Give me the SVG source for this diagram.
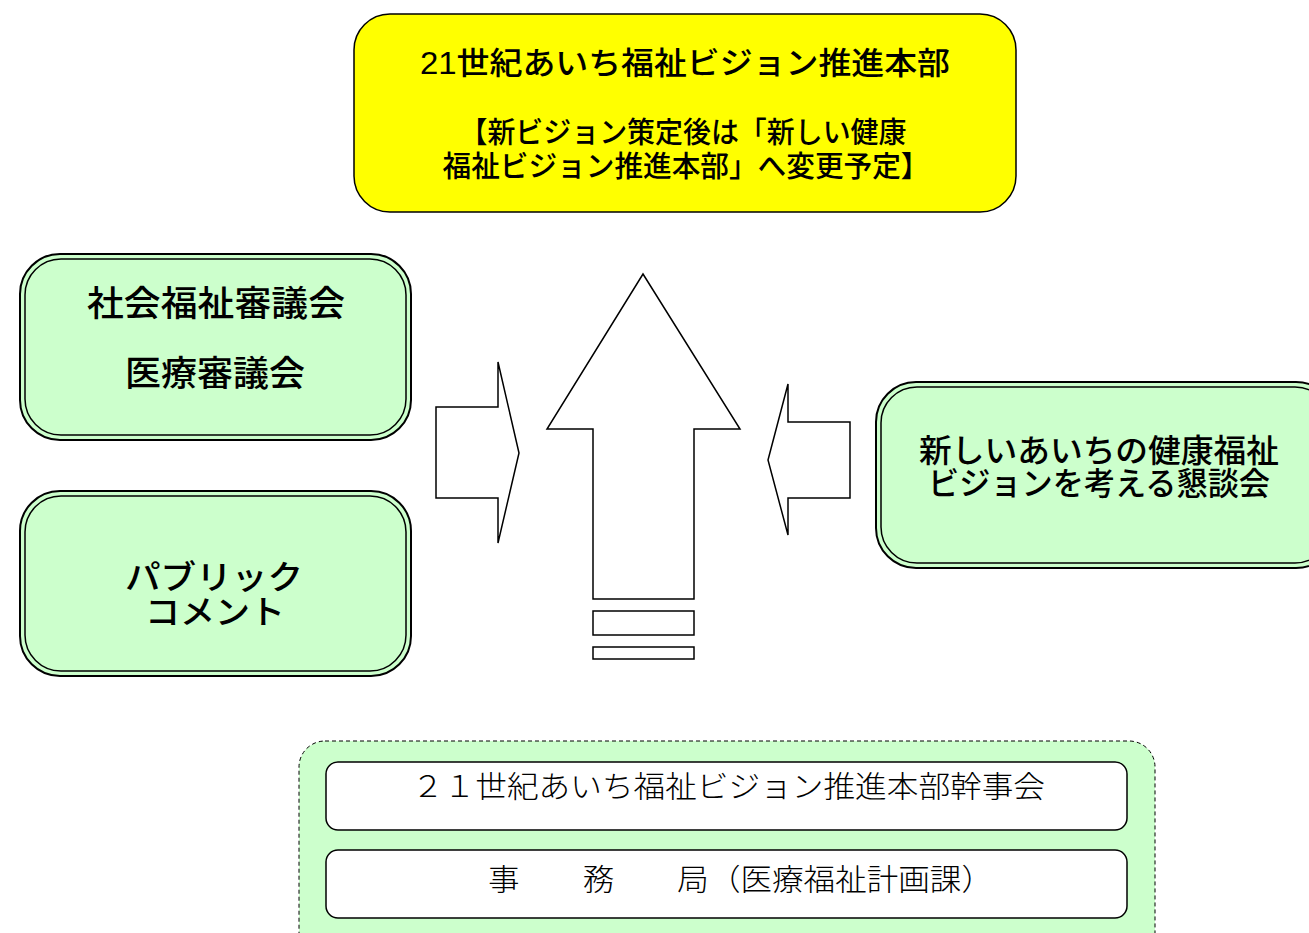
<svg xmlns="http://www.w3.org/2000/svg" width="1309" height="933" viewBox="0 0 1309 933">
<style>
.t{font-family:"Liberation Sans","Noto Sans CJK JP",sans-serif;fill:#000;text-anchor:middle;font-weight:500}
.m{font-family:"Liberation Serif","Noto Sans CJK JP",serif;fill:#000;font-weight:300}
.green{fill:#ccffcc;stroke:#000;stroke-width:2}
.inner{fill:none;stroke:#000;stroke-width:1.5}
.arrow{fill:#fff;stroke:#000;stroke-width:1.5;stroke-linejoin:miter}
.wbox{fill:#fff;stroke:#000;stroke-width:1.5}
</style>
<rect width="1309" height="933" fill="#fff"/>
<g id="honbu">
<rect x="354" y="14" width="662" height="198" rx="36" fill="#ffff00" stroke="#000" stroke-width="1.5"/>
<text class="t" x="685" y="74" font-size="31" textLength="530" lengthAdjust="spacingAndGlyphs">21世紀あいち福祉ビジョン推進本部</text>
<text class="t" x="683" y="143" font-size="29" textLength="447" lengthAdjust="spacingAndGlyphs">【新ビジョン策定後は「新しい健康</text>
<text class="t" x="686" y="177" font-size="29" textLength="487" lengthAdjust="spacingAndGlyphs">福祉ビジョン推進本部」へ変更予定】</text>
</g>
<g id="shingikai">
<rect class="green" x="20" y="254" width="391" height="186" rx="40"/>
<rect class="inner" x="25" y="259" width="381" height="176" rx="36"/>
<text class="t" x="216" y="316" font-size="35" textLength="258" lengthAdjust="spacingAndGlyphs">社会福祉審議会</text>
<text class="t" x="215" y="386" font-size="35" textLength="180" lengthAdjust="spacingAndGlyphs">医療審議会</text>
</g>
<g id="public">
<rect class="green" x="20" y="491" width="391" height="185" rx="40"/>
<rect class="inner" x="25" y="496" width="381" height="175" rx="36"/>
<text class="t" x="214" y="589" font-size="33" textLength="178" lengthAdjust="spacingAndGlyphs">パブリック</text>
<text class="t" x="215" y="624" font-size="33" textLength="140" lengthAdjust="spacingAndGlyphs">コメント</text>
</g>
<g id="kondankai">
<rect class="green" x="876" y="382" width="460" height="186" rx="40"/>
<rect class="inner" x="881" y="387" width="450" height="176" rx="36"/>
<text class="t" x="1099" y="462" font-size="32" textLength="360" lengthAdjust="spacingAndGlyphs">新しいあいちの健康福祉</text>
<text class="t" x="1099" y="495" font-size="32" textLength="342" lengthAdjust="spacingAndGlyphs">ビジョンを考える懇談会</text>
</g>
<g id="connectors">
<polygon class="arrow" points="436,407 498,407 498,362 519,453 498,543 498,498 436,498"/>
<polygon class="arrow" points="643,274 740,429 694,429 694,599 593,599 593,429 547,429" stroke-width="2"/>
<rect class="arrow" x="593" y="611" width="101" height="24" stroke-width="2"/>
<rect class="arrow" x="593" y="647" width="101" height="12" stroke-width="2"/>
<polygon class="arrow" points="850,422 788,422 788,384 768,460 788,535 788,498 850,498"/>
</g>
<g id="kanjikai-group">
<rect x="299" y="741" width="856" height="220" rx="26" fill="#ccffcc" stroke="#000" stroke-width="1" stroke-dasharray="4,3"/>
</g>
<g id="kanjikai">
<rect class="wbox" x="326" y="762" width="801" height="68" rx="12"/>
<text class="m" x="412" y="797" font-size="30" textLength="633" lengthAdjust="spacingAndGlyphs">２１世紀あいち福祉ビジョン推進本部幹事会</text>
</g>
<g id="jimukyoku">
<rect class="wbox" x="326" y="850" width="801" height="68" rx="12"/>
<text class="m" x="488" y="890" font-size="30" textLength="505" lengthAdjust="spacingAndGlyphs">事　　務　　局（医療福祉計画課）</text>
</g>
</svg>
